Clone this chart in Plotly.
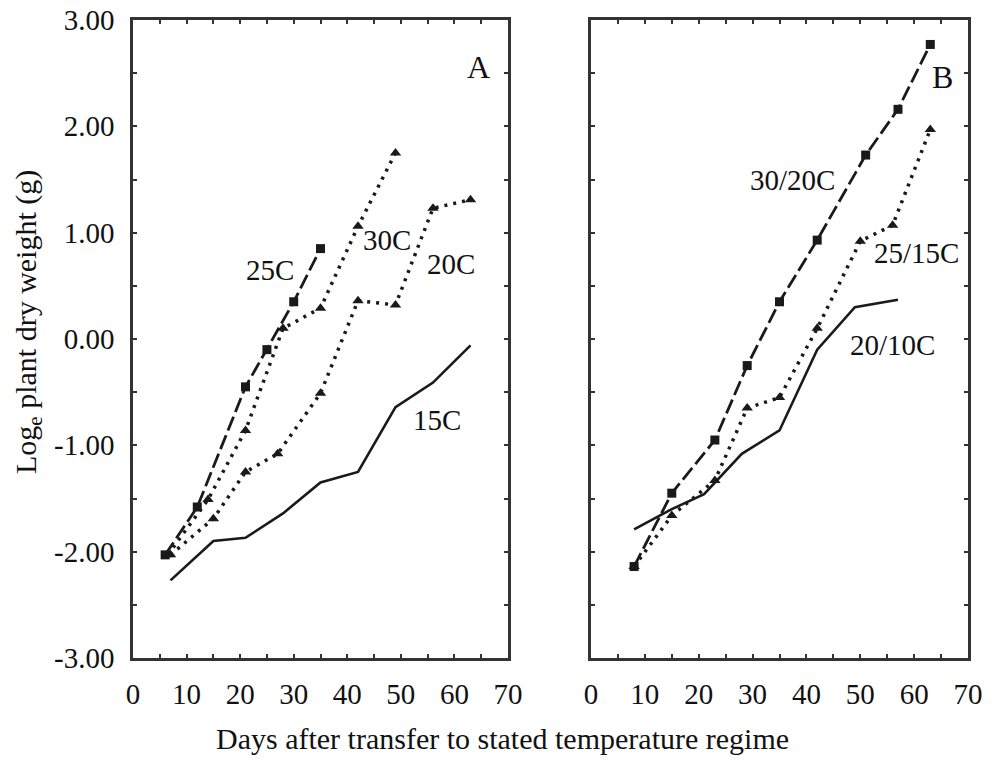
import plotly.graph_objects as go

# Panel A
d25 = [6, 12, 21, 25, 30, 35]
v25 = [-2.03, -1.58, -0.45, -0.10, 0.35, 0.85]
d30 = [6.5, 14, 21, 28, 35, 42, 49]
v30 = [-2.03, -1.51, -0.86, 0.10, 0.29, 1.06, 1.75]
d20 = [7, 15, 21, 27, 35, 42, 49, 56, 63]
v20 = [-2.03, -1.69, -1.25, -1.08, -0.51, 0.36, 0.32, 1.23, 1.31]
d15 = [7, 15, 21, 28, 35, 42, 49, 56, 63]
v15 = [-2.27, -1.90, -1.87, -1.64, -1.35, -1.25, -0.64, -0.41, -0.06]

# Panel B
d3020 = [8, 15, 23, 29, 35, 42, 51, 57, 63]
v3020 = [-2.14, -1.45, -0.95, -0.25, 0.35, 0.93, 1.73, 2.16, 2.77]
d2515 = [8, 15, 23, 29, 35, 42, 50, 56, 63]
v2515 = [-2.14, -1.66, -1.33, -0.65, -0.55, 0.10, 0.92, 1.07, 1.97]
d2010 = [8, 15, 21, 28, 35, 42, 49, 57]
v2010 = [-1.79, -1.60, -1.46, -1.08, -0.86, -0.10, 0.30, 0.37]

xticks = [0, 10, 20, 30, 40, 50, 60, 70]
yticks = [-3, -2, -1, 0, 1, 2, 3]
ytick_labels = ["-3.00", "-2.00", "-1.00", "0.00", "1.00", "2.00", "3.00"]

INK = "#1a1a1a"
FONT = "Liberation Serif"
W, H = 1000, 762

def px(x):
    return x / W

def py(y):
    return 1 - y / H

fig = go.Figure()

def add(xs, ys, xa, ya, dash, width, symbol=None, msize=9):
    mode = "lines+markers" if symbol else "lines"
    fig.add_trace(go.Scatter(
        x=xs, y=ys, xaxis=xa, yaxis=ya, mode=mode,
        line=dict(color=INK, width=width, dash=dash),
        marker=dict(symbol=symbol or "circle", size=msize, color=INK),
        showlegend=False, hoverinfo="skip", cliponaxis=False))

DOT = "3px,6px"
DASH = "15px,5px"

add(d15, v15, "x", "y", "solid", 2.6)
add(d20, v20, "x", "y", DOT, 3.5, "triangle-up", 10)
add(d30, v30, "x", "y", DOT, 3.5, "triangle-up", 10)
add(d25, v25, "x", "y", DASH, 2.8, "square", 9)

add(d2010, v2010, "x2", "y2", "solid", 2.6)
add(d2515, v2515, "x2", "y2", DOT, 3.5, "triangle-up", 10)
add(d3020, v3020, "x2", "y2", DASH, 2.8, "square", 9)

ydom = [py(658), py(20)]
axis_common = dict(
    showline=True, linecolor="#333", linewidth=2.5, mirror="ticks",
    ticks="inside", ticklen=4, tickwidth=1.5, tickcolor="#333",
    showgrid=False, zeroline=False, automargin=False,
    ticklabeloverflow="allow",
    tickfont=dict(family=FONT, size=29, color="#111"),
)
minor_x = dict(dtick=5, ticks="inside", ticklen=4, tickcolor="#333")
minor_y = dict(dtick=0.5, ticks="inside", ticklen=4, tickcolor="#333")

fig.update_layout(
    width=W, height=H,
    margin=dict(l=0, r=0, t=0, b=0),
    paper_bgcolor="white", plot_bgcolor="white",
    xaxis=dict(domain=[px(133), px(508)], range=[0, 70],
               tickvals=xticks, anchor="y", minor=minor_x,
               ticklabelstandoff=8, **axis_common),
    yaxis=dict(domain=ydom, range=[-3, 3], tickvals=yticks,
               ticktext=ytick_labels, anchor="x", minor=minor_y,
               ticklabelstandoff=10, **axis_common),
    xaxis2=dict(domain=[px(591), px(968)], range=[0, 70],
                tickvals=xticks, anchor="y2", minor=minor_x,
                ticklabelstandoff=8, **axis_common),
    yaxis2=dict(domain=ydom, range=[-3, 3], tickvals=yticks,
                showticklabels=False, anchor="x2", minor=minor_y,
                **axis_common),
)

labels = [
    ("A", 64.5, 2.56, "x", "y", 32),
    ("25C", 25.5, 0.65, "x", "y", 29),
    ("30C", 47.5, 0.93, "x", "y", 29),
    ("20C", 59.3, 0.71, "x", "y", 29),
    ("15C", 56.8, -0.76, "x", "y", 29),
    ("B", 65.3, 2.46, "x2", "y2", 32),
    ("30/20C", 37.5, 1.50, "x2", "y2", 29),
    ("25/15C", 60.5, 0.81, "x2", "y2", 29),
    ("20/10C", 56.0, -0.06, "x2", "y2", 29),
]
for txt, lx, ly, xr, yr, sz in labels:
    fig.add_annotation(text=txt, x=lx, y=ly, xref=xr, yref=yr, showarrow=False,
                       font=dict(family=FONT, size=sz, color="#111"))

fig.add_annotation(text="Log<sub>e</sub> plant dry weight (g)",
                   x=px(28), y=py(322), xref="paper", yref="paper",
                   xanchor="center", yanchor="middle", textangle=-90,
                   showarrow=False,
                   font=dict(family=FONT, size=30, color="#111"))

fig.add_annotation(text="Days after transfer to stated temperature regime",
                   x=px(502), y=py(738), xref="paper", yref="paper",
                   xanchor="center", yanchor="middle", showarrow=False,
                   font=dict(family=FONT, size=30, color="#111"))

fig.write_html("out.html", config={"displayModeBar": False},
               post_script="document.body.style.margin='0';document.body.style.overflow='hidden';")
